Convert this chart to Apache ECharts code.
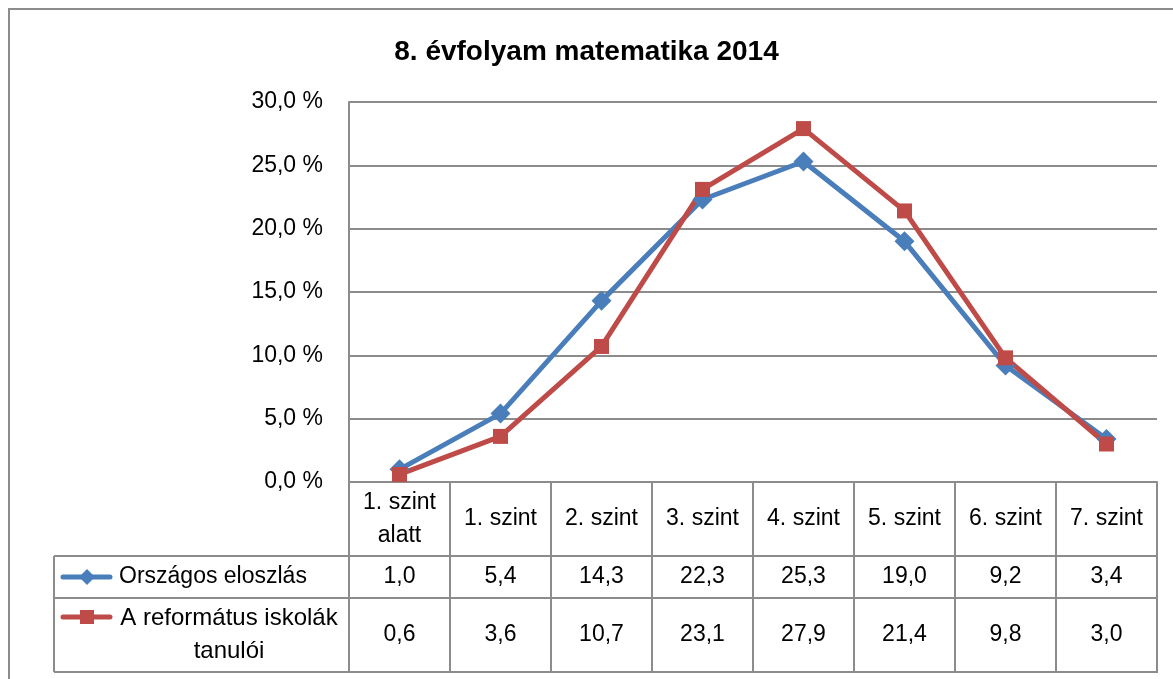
<!DOCTYPE html>
<html>
<head>
<meta charset="utf-8">
<script src="https://cdn.jsdelivr.net/npm/echarts@6/dist/echarts.min.js"></script>
<style>
  html, body { margin: 0; padding: 0; background: #fff; }
  #chart { width: 1173px; height: 679px; }
</style>
</head>
<body>
<div id="chart"></div>
<script>
// data
const categories = ['1. szint\nalatt', '1. szint', '2. szint', '3. szint', '4. szint', '5. szint', '6. szint', '7. szint'];
const orszagos = [1.0, 5.4, 14.3, 22.3, 25.3, 19.0, 9.2, 3.4];
const reformatus = [0.6, 3.6, 10.7, 23.1, 27.9, 21.4, 9.8, 3.0];
const seriesNames = ['Országos eloszlás', 'A református iskolák\ntanulói'];
const title = '8. évfolyam matematika 2014';

const font = 'Liberation Sans';
const grey = '#8c8c8c';
const blue = '#4a7ebb';
const red = '#be4b48';
const fs = 23;

const fmt = v => v.toFixed(1).replace('.', ',');

const chart = echarts.init(document.getElementById('chart'));

chart.setOption({
  animation: false,
  title: {
    text: title,
    left: 'center',
    top: 33,
    textStyle: { fontFamily: font, fontSize: 28, fontWeight: 'bold', color: '#000' }
  },
  grid: { left: 349, right: 16, top: 102, bottom: 197 },
  xAxis: {
    type: 'category',
    data: categories,
    boundaryGap: true,
    axisLine: { lineStyle: { color: grey, width: 2 } },
    axisTick: { show: true, interval: 0, length: 190, lineStyle: { color: grey, width: 2 } },
    axisLabel: {
      interval: 0, margin: 37, verticalAlign: 'middle',
      fontFamily: font, fontSize: fs, lineHeight: 33, color: '#000'
    }
  },
  yAxis: {
    type: 'value',
    min: 0, max: 30, interval: 5,
    axisLine: { show: true, lineStyle: { color: grey, width: 2 } },
    axisTick: { show: false },
    splitLine: { lineStyle: { color: grey, width: 2 } },
    axisLabel: {
      margin: 26, fontFamily: font, fontSize: fs, color: '#000',
      formatter: v => fmt(v) + ' %'
    }
  },
  series: [
    {
      name: seriesNames[0], type: 'line', data: orszagos,
      symbol: 'diamond', symbolSize: 20,
      lineStyle: { color: blue, width: 5 },
      itemStyle: { color: blue }
    },
    {
      name: seriesNames[1], type: 'line', data: reformatus,
      symbol: 'rect', symbolSize: 15,
      lineStyle: { color: red, width: 5 },
      itemStyle: { color: red }
    }
  ]
});

// data table under the plot
function drawTable() {
  const x0 = chart.convertToPixel({ xAxisIndex: 0 }, 0);
  const x1 = chart.convertToPixel({ xAxisIndex: 0 }, 1);
  const step = x1 - x0;
  const plotLeft = x0 - step / 2;
  const plotRight = plotLeft + step * categories.length;
  const yZero = chart.convertToPixel({ yAxisIndex: 0 }, 0);
  const row1Top = yZero + 74;
  const row2Top = row1Top + 42;
  const tableBottom = row2Top + 74;
  const tableLeft = 54;
  const lineStyle = { stroke: grey, lineWidth: 2 };
  const els = [];

  els.push({ type: 'rect', shape: { x: 9, y: 9, width: 1300, height: 800 },
    style: { fill: null, stroke: grey, lineWidth: 2 }, silent: true });

  [row1Top, row2Top, tableBottom].forEach(y => {
    els.push({ type: 'line', shape: { x1: tableLeft, y1: y, x2: plotRight + 1, y2: y }, style: lineStyle });
  });
  els.push({ type: 'line', shape: { x1: tableLeft, y1: row1Top, x2: tableLeft, y2: tableBottom }, style: lineStyle });

  const rows = [
    { data: orszagos, cy: (row1Top + row2Top) / 2 },
    { data: reformatus, cy: (row2Top + tableBottom) / 2 }
  ];
  rows.forEach(r => {
    r.data.forEach((v, i) => {
      els.push({ type: 'text', x: chart.convertToPixel({ xAxisIndex: 0 }, i), y: r.cy,
        style: { text: fmt(v), fontFamily: font, fontSize: fs, fill: '#000', align: 'center', verticalAlign: 'middle' } });
    });
  });

  // legend keys inside the table
  const keyY = [rows[0].cy, row2Top + 19];
  const colors = [blue, red];
  keyY.forEach((y, k) => {
    els.push({ type: 'line', shape: { x1: 63, y1: y, x2: 110, y2: y },
      style: { stroke: colors[k], lineWidth: 5, lineCap: 'round' } });
  });
  els.push({ type: 'polygon', shape: { points: [[87, keyY[0] - 8], [95, keyY[0]], [87, keyY[0] + 8], [79, keyY[0]]] },
    style: { fill: blue } });
  els.push({ type: 'rect', shape: { x: 80, y: keyY[1] - 7, width: 14, height: 14 }, style: { fill: red } });

  els.push({ type: 'text', x: 119, y: rows[0].cy,
    style: { text: seriesNames[0], fontFamily: font, fontSize: fs, fill: '#000', align: 'left', verticalAlign: 'middle' } });
  els.push({ type: 'text', x: 229, y: rows[1].cy,
    style: { text: seriesNames[1], fontFamily: font, fontSize: 24, lineHeight: 33, fill: '#000', align: 'center', verticalAlign: 'middle' } });

  chart.setOption({ graphic: { elements: els } });
}
drawTable();
</script>
</body>
</html>
